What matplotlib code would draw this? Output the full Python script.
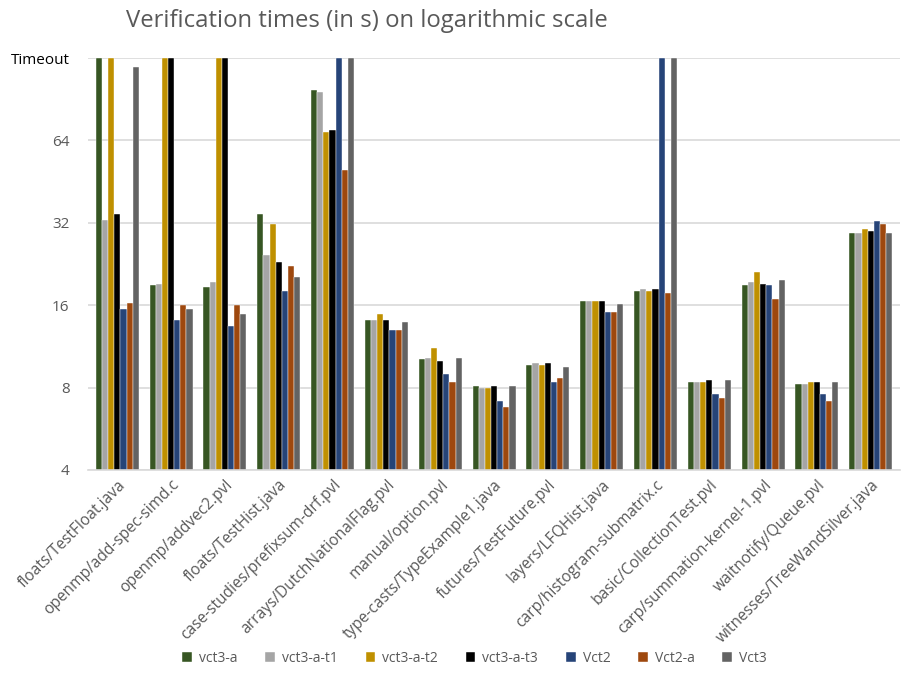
import numpy as np
import matplotlib.pyplot as plt
from matplotlib.ticker import FixedLocator, NullLocator

plt.rcParams['font.family'] = ['Open Sans', 'DejaVu Sans']

TIMEOUT = 128

cases = ['floats/TestFloat.java', 'openmp/add-spec-simd.c', 'openmp/addvec2.pvl',
         'floats/TestHist.java', 'case-studies/prefixsum-drf.pvl',
         'arrays/DutchNationalFlag.pvl', 'manual/option.pvl',
         'type-casts/TypeExample1.java', 'futures/TestFuture.pvl',
         'layers/LFQHist.java', 'carp/histogram-submatrix.c',
         'basic/CollectionTest.pvl', 'carp/summation-kernel-1.pvl',
         'waitnotify/Queue.pvl', 'witnesses/TreeWandSilver.java']

vct3_a    = [TIMEOUT, 18.9, 18.6, 34.6, 98.0, 14.1, 10.2, 8.1, 9.7, 16.6, 18.0, 8.38, 18.9, 8.25, 29.4]
vct3_a_t1 = [32.8, 19.2, 19.5, 24.5, 96.4, 14.1, 10.3, 7.96, 9.86, 16.6, 18.3, 8.38, 19.5, 8.25, 29.4]
vct3_a_t2 = [TIMEOUT, TIMEOUT, TIMEOUT, 31.8, 68.4, 14.8, 11.2, 7.96, 9.7, 16.6, 18.0, 8.38, 21.2, 8.38, 30.4]
vct3_a_t3 = [34.6, TIMEOUT, TIMEOUT, 23.0, 69.8, 14.1, 10.0, 8.1, 9.86, 16.6, 18.3, 8.53, 19.2, 8.38, 29.9]
vct2      = [15.5, 14.1, 13.4, 18.0, TIMEOUT, 13.0, 8.94, 7.12, 8.38, 15.1, TIMEOUT, 7.6, 18.9, 7.6, 32.4]
vct2_a    = [16.3, 16.0, 16.0, 22.3, 50.1, 13.0, 8.38, 6.77, 8.64, 15.1, 17.7, 7.36, 16.9, 7.12, 31.8]
vct3      = [119, 15.5, 14.8, 20.2, TIMEOUT, 13.9, 10.3, 8.1, 9.54, 16.1, TIMEOUT, 8.53, 19.8, 8.38, 29.4]

series = {'vct3-a': vct3_a, 'vct3-a-t1': vct3_a_t1, 'vct3-a-t2': vct3_a_t2,
          'vct3-a-t3': vct3_a_t3, 'Vct2': vct2, 'Vct2-a': vct2_a, 'Vct3': vct3}
colors = ['#375623', '#a5a5a5', '#bf9000', '#000000', '#264478', '#9e480e', '#636363']

fig = plt.figure(figsize=(9.04, 6.93), dpi=100)
ax = fig.add_axes([0.097, 0.3218, 0.899, 0.5945])

x = np.arange(len(cases))
w = 0.8 / len(series)
for i, (name, vals) in enumerate(series.items()):
    ax.bar(x - 0.4 + w * (i + 0.5), vals, width=w, bottom=0, color=colors[i],
           label=name, zorder=2, edgecolor='white', linewidth=0.3)

ax.set_yscale('log', base=2)
ax.set_ylim(4, TIMEOUT)
ax.set_xlim(-0.55, len(cases) - 0.45)
yt = [4, 8, 16, 32, 64, TIMEOUT]
ax.yaxis.set_major_locator(FixedLocator(yt))
ax.yaxis.set_minor_locator(NullLocator())
ax.set_yticklabels(['4', '8', '16', '32', '64', 'Timeout'])
for lbl in ax.get_yticklabels():
    lbl.set_color('#595959')
    lbl.set_fontsize(11)
ax.get_yticklabels()[-1].set_color('black')
ax.grid(axis='y', color='#d9d9d9', linewidth=1.2, zorder=0)
ax.tick_params(axis='y', length=0, pad=13)
ax.tick_params(axis='x', length=0, pad=5)

ax.set_xticks(x)
ax.set_xticklabels(cases, rotation=45, ha='right', rotation_mode='anchor',
                   fontsize=11.2, color='#595959')
for s in ['top', 'right', 'left']:
    ax.spines[s].set_visible(False)
ax.spines['bottom'].set_color('#d9d9d9')
ax.spines['bottom'].set_linewidth(1.2)

fig.text(0.406, 0.970, 'Verification times (in s) on logarithmic scale',
         ha='center', va='center', fontsize=17.2, color='#595959')

leg = fig.legend(loc='center', bbox_to_anchor=(0.525, 0.05), ncol=7, frameon=False,
                 fontsize=10, handlelength=0.7, handleheight=0.7,
                 columnspacing=2.0, handletextpad=0.5)
for t in leg.get_texts():
    t.set_color('#595959')

fig.savefig('out.png', dpi=100)
